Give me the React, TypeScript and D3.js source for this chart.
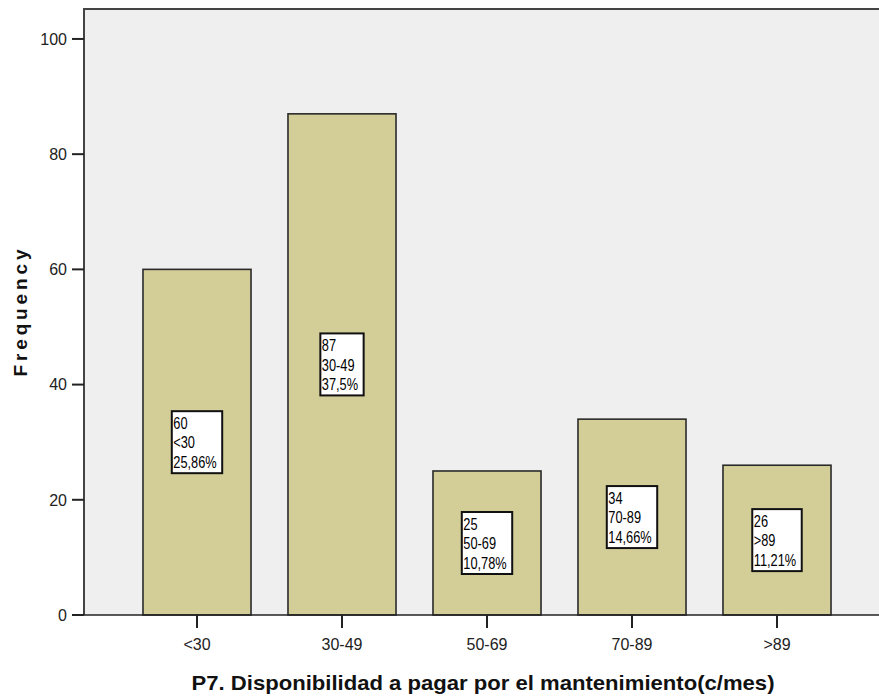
import React, { useEffect, useRef } from "react";
import * as d3 from "d3";

const categories = ["<30", "30-49", "50-69", "70-89", ">89"];
const counts = [60, 87, 25, 34, 26];
const percents = ["25,86%", "37,5%", "10,78%", "14,66%", "11,21%"];
const yTicks = [0, 20, 40, 60, 80, 100];

const W = 879;
const H = 696;

const App: React.FC = () => {
  const svgRef = useRef<SVGSVGElement | null>(null);

  useEffect(() => {
    if (!svgRef.current) return;
    const svg = d3.select(svgRef.current);
    svg.selectAll("*").remove();

    const left = 84;
    const top = 9;
    const bottom = 615;

    const x = d3
      .scaleBand()
      .domain(categories)
      .range([124.5, 849.5])
      .paddingInner(0.255)
      .paddingOuter(0.1275);

    const y = d3.scaleLinear().domain([0, 105.2]).range([bottom, top]);

    // plot background
    svg
      .append("rect")
      .attr("x", left)
      .attr("y", top)
      .attr("width", W - left + 20)
      .attr("height", bottom - top)
      .attr("fill", "#efefef");

    // bars
    svg
      .selectAll("rect.bar")
      .data(counts)
      .join("rect")
      .attr("class", "bar")
      .attr("x", (_, i) => x(categories[i]) || 0)
      .attr("y", (d) => y(d))
      .attr("width", x.bandwidth())
      .attr("height", (d) => y(0) - y(d))
      .attr("fill", "#d3ce98")
      .attr("stroke", "#2a2a2a")
      .attr("stroke-width", 1.6);

    // frame lines (left, top, bottom)
    svg
      .append("path")
      .attr("d", `M${left},${bottom}V${top}H${W + 10}`)
      .attr("fill", "none")
      .attr("stroke", "#444")
      .attr("stroke-width", 2);
    svg
      .append("line")
      .attr("x1", left)
      .attr("x2", W + 10)
      .attr("y1", bottom)
      .attr("y2", bottom)
      .attr("stroke", "#222")
      .attr("stroke-width", 1.6);

    // y axis ticks
    const yt = svg.append("g");
    yTicks.forEach((t) => {
      yt.append("line")
        .attr("x1", left - 12)
        .attr("x2", left)
        .attr("y1", y(t))
        .attr("y2", y(t))
        .attr("stroke", "#222")
        .attr("stroke-width", 2);
      yt.append("text")
        .attr("x", left - 17)
        .attr("y", y(t))
        .attr("dy", "0.36em")
        .attr("text-anchor", "end")
        .attr("font-family", "Liberation Sans, Arial, sans-serif")
        .attr("font-size", 16)
        .attr("fill", "#222")
        .text(t);
    });

    // x axis ticks
    categories.forEach((c) => {
      const cx = (x(c) || 0) + x.bandwidth() / 2;
      svg
        .append("line")
        .attr("x1", cx)
        .attr("x2", cx)
        .attr("y1", bottom)
        .attr("y2", bottom + 13)
        .attr("stroke", "#222")
        .attr("stroke-width", 2);
      svg
        .append("text")
        .attr("x", cx)
        .attr("y", 650)
        .attr("text-anchor", "middle")
        .attr("font-family", "Liberation Sans, Arial, sans-serif")
        .attr("font-size", 16)
        .attr("fill", "#222")
        .text(c);
    });

    // label boxes
    const sx = 0.8;
    counts.forEach((v, i) => {
      const cx = (x(categories[i]) || 0) + x.bandwidth() / 2;
      const cy = y(v / 2);
      const g = svg.append("g");
      const rect = g
        .append("rect")
        .attr("fill", "#fff")
        .attr("stroke", "#111")
        .attr("stroke-width", 2);
      const tg = g.append("g");
      const lines = [String(v), categories[i], percents[i]];
      lines.forEach((l, j) => {
        tg.append("text")
          .attr("x", 0)
          .attr("y", j * 19.5)
          .attr("dy", "0.36em")
          .attr("font-family", "Liberation Sans, Arial, sans-serif")
          .attr("font-size", 16)
          .attr("fill", "#000")
          .text(l);
      });
      const bb = (tg.node() as SVGGElement).getBBox();
      const tw = bb.width * sx;
      const bw = tw + 7;
      const bh = 62;
      const bx = cx - bw / 2;
      const by = cy - bh / 2;
      rect.attr("x", bx).attr("y", by).attr("width", bw).attr("height", bh);
      tg.attr(
        "transform",
        `translate(${bx + 1.5},${by + 12}) scale(${sx},1)`
      );
    });

    // axis titles
    svg
      .append("text")
      .attr("x", 483)
      .attr("y", 690)
      .attr("text-anchor", "middle")
      .attr("font-family", "Liberation Sans, Arial, sans-serif")
      .attr("font-weight", "bold")
      .attr("font-size", 21)
      .attr("fill", "#111")
      .attr("textLength", 583)
      .attr("lengthAdjust", "spacingAndGlyphs")
      .text("P7. Disponibilidad a pagar por el mantenimiento(c/mes)");

    svg
      .append("text")
      .attr("transform", `translate(27,313) rotate(-90)`)
      .attr("text-anchor", "middle")
      .attr("font-family", "Liberation Sans, Arial, sans-serif")
      .attr("font-weight", "bold")
      .attr("font-size", 19)
      .attr("fill", "#111")
      .attr("textLength", 127)
      .attr("lengthAdjust", "spacing")
      .text("Frequency");
  }, []);

  return (
    <svg
      ref={svgRef}
      width={W}
      height={H}
      style={{ position: "absolute", left: 0, top: 0, background: "#fff" }}
    />
  );
};

export default App;
